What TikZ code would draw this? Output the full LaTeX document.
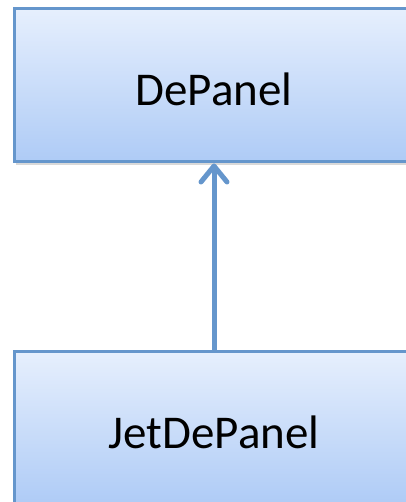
\documentclass[tikz,border=0pt]{standalone}
\usepackage{fontspec}
\setmainfont{Carlito}
\usetikzlibrary{arrows.meta,shadows}
\definecolor{boxtop}{HTML}{E6EFFD}
\definecolor{boxbottom}{HTML}{AECBF6}
\definecolor{boxline}{HTML}{6596CC}
\tikzset{
  classbox/.style={draw=boxline, line width=3pt, top color=boxtop, bottom color=boxbottom,
    minimum width=400pt, minimum height=153pt, inner sep=0pt, font=\fontsize{47}{56}\selectfont,
    text height=40pt, text depth=0pt,
    drop shadow={shadow xshift=1.5pt, shadow yshift=-3pt, opacity=0.3}},
  inherit/.style={draw=boxline, line width=5pt, line cap=round,
    -{Straight Barb[round, length=16pt, width=26pt]}}
}

\begin{document}
\begin{tikzpicture}[x=1pt,y=1pt]
\useasboundingbox (0,0) rectangle (405,502);
\node[classbox] (depanel) at (214,416.5) {DePanel};
\node[classbox] (jetdepanel) at (214,73.5) {JetDePanel};
\draw[inherit] (jetdepanel.north) -- (depanel.south);
\end{tikzpicture}
\end{document}
